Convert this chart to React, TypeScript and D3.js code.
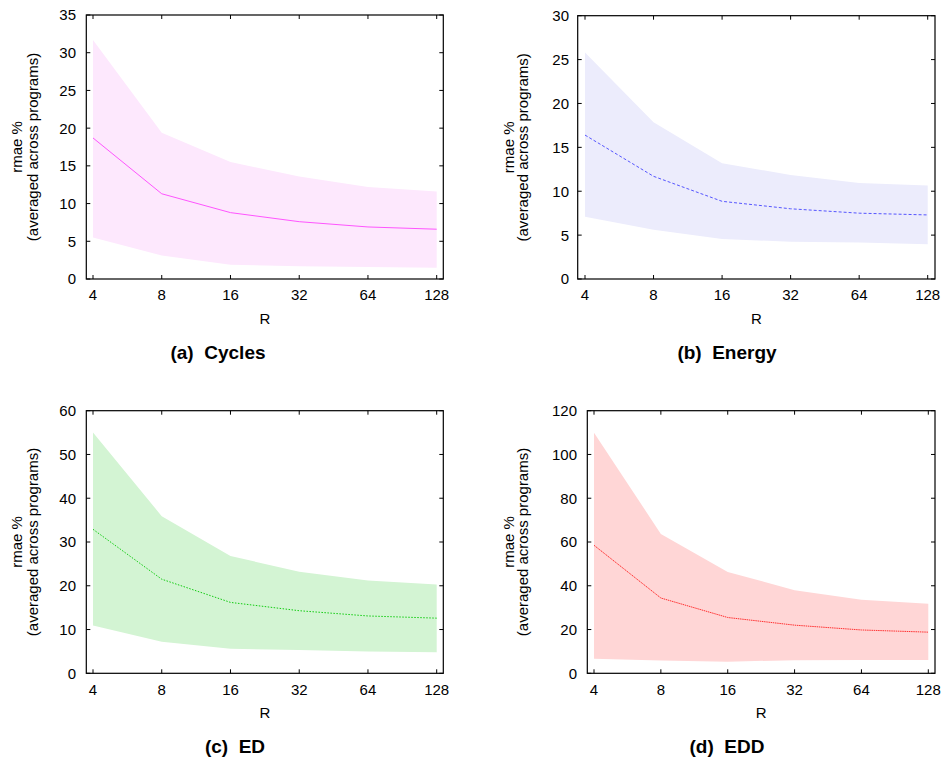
import React from "react";
import * as d3 from "d3";

const R_VALUES = [4, 8, 16, 32, 64, 128];
const R_TICK_LABELS = ["4", "8", "16", "32", "64", "128"];

const cyclesMean = [18.7, 11.3, 8.8, 7.6, 6.9, 6.6];
const cyclesUpper = [31.7, 19.4, 15.5, 13.6, 12.2, 11.6];
const cyclesLower = [5.5, 3.1, 1.9, 1.7, 1.6, 1.5];

const energyMean = [16.4, 11.7, 8.85, 8.0, 7.5, 7.3];
const energyUpper = [25.8, 17.85, 13.2, 11.85, 10.95, 10.65];
const energyLower = [7.1, 5.6, 4.55, 4.25, 4.15, 3.95];

const edMean = [32.9, 21.5, 16.2, 14.3, 13.1, 12.6];
const edUpper = [55.0, 35.9, 26.8, 23.2, 21.2, 20.3];
const edLower = [10.9, 7.2, 5.6, 5.3, 5.0, 4.8];

const eddMean = [58.5, 34.4, 25.5, 22.0, 19.8, 18.8];
const eddUpper = [109.9, 63.7, 46.3, 38.0, 33.6, 31.8];
const eddLower = [6.6, 5.8, 5.3, 6.0, 6.1, 6.1];

const cyclesTicks = [0, 5, 10, 15, 20, 25, 30, 35];
const energyTicks = [0, 5, 10, 15, 20, 25, 30];
const edTicks = [0, 10, 20, 30, 40, 50, 60];
const eddTicks = [0, 20, 40, 60, 80, 100, 120];

const FONT = "'Liberation Sans', Arial, Helvetica, sans-serif";

type PanelProps = {
  left: number; right: number; top: number; bottom: number;
  x4: number; x128: number;
  yTicks: number[];
  mean: number[]; upper: number[]; lower: number[];
  fill: string; stroke: string; dash?: string;
  title: string; titleX: number; titleY: number;
  labelX1: number; labelX2: number;
  tickLabelRight: number;
  xTickBaseline: number; rBaseline: number;
};

function Panel(p: PanelProps) {
  const x = d3.scaleLog().base(2).domain([4, 128]).range([p.x4, p.x128]);
  const yMax = p.yTicks[p.yTicks.length - 1];
  const y = d3.scaleLinear().domain([0, yMax]).range([p.bottom, p.top]);
  const idx = d3.range(R_VALUES.length);
  const area = d3.area<number>()
    .x((i) => x(R_VALUES[i]))
    .y0((i) => y(p.lower[i]))
    .y1((i) => y(p.upper[i]));
  const line = d3.line<number>()
    .x((i) => x(R_VALUES[i]))
    .y((i) => y(p.mean[i]));
  const tl = 4;
  const cy = (p.top + p.bottom) / 2;
  const cx = (p.left + p.right) / 2;
  return (
    <g>
      <path d={area(idx) || ""} fill={p.fill} stroke="none" />
      <path d={line(idx) || ""} fill="none" stroke={p.stroke} strokeWidth={1} strokeDasharray={p.dash} />
      {p.yTicks.map((t) => (
        <g key={"y" + t}>
          <line x1={p.left} x2={p.left + tl} y1={y(t)} y2={y(t)} stroke="#000" strokeWidth={1} />
          <line x1={p.right} x2={p.right - tl} y1={y(t)} y2={y(t)} stroke="#000" strokeWidth={1} />
          <text x={p.tickLabelRight} y={y(t)} dy="0.36em" textAnchor="end" fontSize={15} fontFamily={FONT} fill="#000">{t}</text>
        </g>
      ))}
      {R_VALUES.map((r, i) => (
        <g key={"x" + r}>
          <line x1={x(r)} x2={x(r)} y1={p.bottom} y2={p.bottom - tl} stroke="#000" strokeWidth={1} />
          <line x1={x(r)} x2={x(r)} y1={p.top} y2={p.top + tl} stroke="#000" strokeWidth={1} />
          <text x={x(r)} y={p.xTickBaseline} textAnchor="middle" fontSize={15} fontFamily={FONT} fill="#000">{R_TICK_LABELS[i]}</text>
        </g>
      ))}
      <rect x={p.left} y={p.top} width={p.right - p.left} height={p.bottom - p.top} fill="none" stroke="#000" strokeWidth={1.2} />
      <text x={cx} y={p.rBaseline} textAnchor="middle" fontSize={15} fontFamily={FONT} fill="#000">R</text>
      <text transform={`translate(${p.labelX1},${cy}) rotate(-90)`} dy="0.36em" textAnchor="middle" fontSize={15} fontFamily={FONT} fill="#000">rmae %</text>
      <text transform={`translate(${p.labelX2},${cy}) rotate(-90)`} dy="0.36em" textAnchor="middle" fontSize={15} fontFamily={FONT} fill="#000">(averaged across programs)</text>
      <text x={p.titleX} y={p.titleY} textAnchor="middle" fontSize={19} fontWeight="bold" fontFamily={FONT} fill="#000" style={{ whiteSpace: "pre" }}>{p.title}</text>
    </g>
  );
}

export default function App() {
  return (
    <svg width={941} height={760} style={{ position: "absolute", left: 0, top: 0, background: "#fff" }}>
      <rect width={941} height={760} fill="#fff" />
      <Panel left={86.3} right={443.3} top={15} bottom={279} x4={93} x128={436.7}
        yTicks={cyclesTicks} mean={cyclesMean} upper={cyclesUpper} lower={cyclesLower}
        fill="#fde8fd" stroke="#ff55ff" title="(a)  Cycles" titleX={218} titleY={359}
        labelX1={17} labelX2={33} tickLabelRight={76} xTickBaseline={300} rBaseline={324} />
      <Panel left={577.7} right={935} top={15.7} bottom={279} x4={585} x128={927.7}
        yTicks={energyTicks} mean={energyMean} upper={energyUpper} lower={energyLower}
        fill="#ececfc" stroke="#5555ff" dash="3,2" title="(b)  Energy" titleX={727} titleY={359}
        labelX1={509} labelX2={523} tickLabelRight={569} xTickBaseline={300} rBaseline={324} />
      <Panel left={86.3} right={443.3} top={410.7} bottom={673.3} x4={93} x128={436.7}
        yTicks={edTicks} mean={edMean} upper={edUpper} lower={edLower}
        fill="#d3f4d3" stroke="#11cc11" dash="1.5,1.5" title="(c)  ED" titleX={235} titleY={753}
        labelX1={17} labelX2={33} tickLabelRight={76} xTickBaseline={695} rBaseline={718} />
      <Panel left={587.3} right={935} top={410.7} bottom={673.3} x4={594} x128={928.3}
        yTicks={eddTicks} mean={eddMean} upper={eddUpper} lower={eddLower}
        fill="#ffd6d6" stroke="#ff3333" dash="1.5,0.7" title="(d)  EDD" titleX={727} titleY={753}
        labelX1={509} labelX2={523} tickLabelRight={577} xTickBaseline={695} rBaseline={718} />
    </svg>
  );
}
